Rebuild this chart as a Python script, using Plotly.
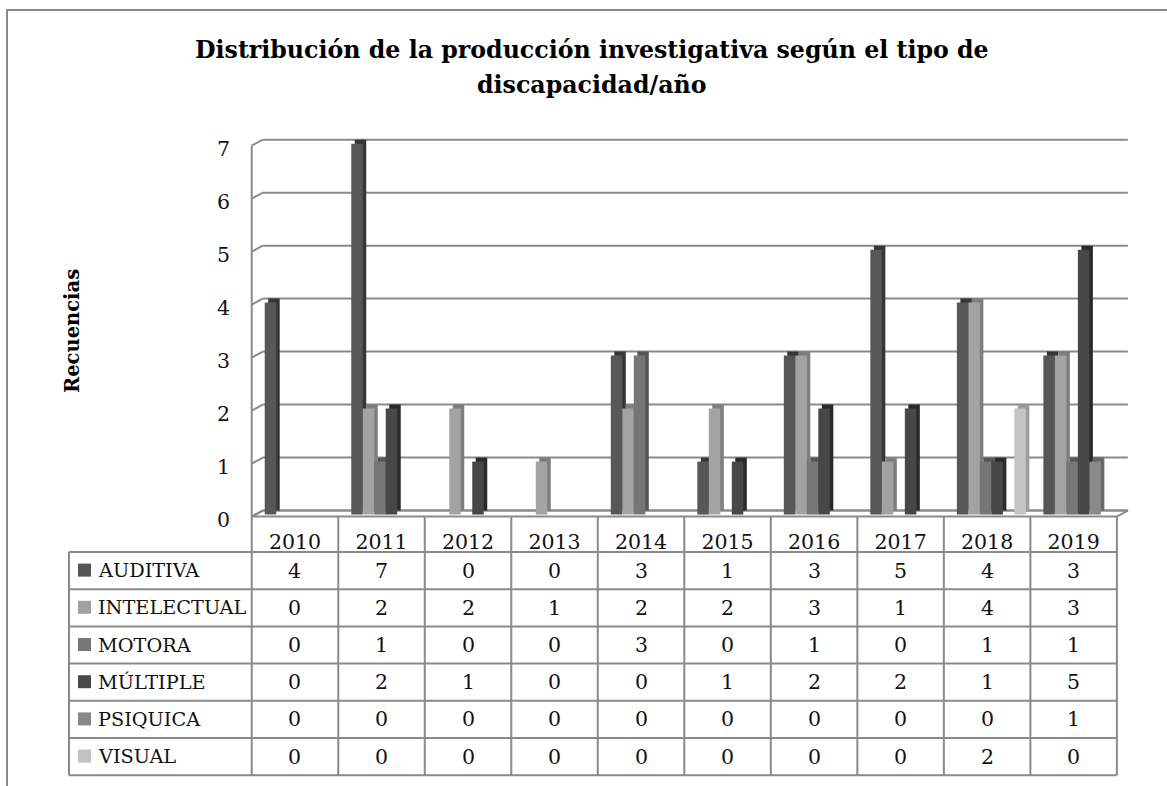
import plotly.graph_objects as go

# ---------------- data ----------------
years = ["2010", "2011", "2012", "2013", "2014", "2015", "2016", "2017", "2018", "2019"]
series_names = ["AUDITIVA", "INTELECTUAL", "MOTORA", "MÚLTIPLE", "PSIQUICA", "VISUAL"]
auditiva = [4, 7, 0, 0, 3, 1, 3, 5, 4, 3]
intelectual = [0, 2, 2, 1, 2, 2, 3, 1, 4, 3]
motora = [0, 1, 0, 0, 3, 0, 1, 0, 1, 1]
multiple = [0, 2, 1, 0, 0, 1, 2, 2, 1, 5]
psiquica = [0, 0, 0, 0, 0, 0, 0, 0, 0, 1]
visual = [0, 0, 0, 0, 0, 0, 0, 0, 2, 0]
y_ticks = [0, 1, 2, 3, 4, 5, 6, 7]

title_line1 = "Distribución de la producción investigativa según el tipo de"
title_line2 = "discapacidad/año"
y_title = "Recuencias"

# ---------------- styles ----------------
front_colors = ["#575757", "#a3a3a3", "#767676", "#474747", "#8a8a8a", "#c4c4c4"]
side_colors = ["#363636", "#7e7e7e", "#565656", "#2a2a2a", "#686868", "#9c9c9c"]
legend_colors = ["#555555", "#a0a0a0", "#777777", "#4a4a4a", "#888888", "#c2c2c2"]
LINE_GRAY = "#8a8a8a"
FONT = "DejaVu Serif"
TXT = "#111111"
TSIZE = 20.5
LSIZE = 19.3

all_series = [auditiva, intelectual, motora, multiple, psiquica, visual]

# ---------------- geometry ----------------
FIG_W, FIG_H = 1167, 786
M_L, M_R, M_T, M_B = 250, 38, 137, 268
X_RANGE = [-0.52, 9.64]
Y_RANGE = [-0.14, 7.05]
PW = FIG_W - M_L - M_R
PH = FIG_H - M_T - M_B
X_UNIT = PW / (X_RANGE[1] - X_RANGE[0])
Y_UNIT = PH / (Y_RANGE[1] - Y_RANGE[0])


def px_paper_x(p):
    return (p - M_L) / PW


def px_paper_y(p):
    return (M_T + PH - p) / PH


def ydata_px(v):
    return M_T + (Y_RANGE[1] - v) * Y_UNIT


WALL_DX = 11 / X_UNIT
WALL_DY = 6 / Y_UNIT
BAR_DX = 3.5 / X_UNIT
BAR_DY = 4 / Y_UNIT
SLOT = 11.5 / X_UNIT
GROUP_START = -0.5 + 13 / X_UNIT

xs = list(range(len(years)))

fig = go.Figure()

# side / top faces (drawn first)
for k, (name, vals) in enumerate(zip(series_names, all_series)):
    fig.add_trace(go.Bar(
        x=xs, y=vals, base=0,
        offset=GROUP_START + k * SLOT + BAR_DX, width=SLOT,
        marker=dict(color=side_colors[k], line=dict(width=0)),
        showlegend=False, hoverinfo="skip",
    ))
# front faces
for k, (name, vals) in enumerate(zip(series_names, all_series)):
    fig.add_trace(go.Bar(
        x=xs, y=vals, base=-BAR_DY,
        offset=GROUP_START + k * SLOT, width=SLOT,
        marker=dict(color=front_colors[k], line=dict(width=0)),
        name=name, showlegend=False,
    ))

shapes = []
# floor
shapes.append(dict(
    type="path", xref="x", yref="y", layer="below",
    path=(f"M {-0.5},{-WALL_DY} L {len(years) - 0.5},{-WALL_DY} "
          f"L {len(years) - 0.5 + WALL_DX},0 L {-0.5 + WALL_DX},0 Z"),
    line=dict(color=LINE_GRAY, width=2), fillcolor="white",
))
# gridlines on back wall + slants on left wall
for v in y_ticks:
    shapes.append(dict(type="line", xref="x", yref="y", layer="below",
                       x0=-0.5 + WALL_DX, x1=len(years) - 0.5 + WALL_DX, y0=v, y1=v,
                       line=dict(color=LINE_GRAY, width=2)))
    shapes.append(dict(type="line", xref="x", yref="y", layer="below",
                       x0=-0.5, x1=-0.5 + WALL_DX, y0=v - WALL_DY, y1=v,
                       line=dict(color=LINE_GRAY, width=2)))
# left wall front edge
shapes.append(dict(type="line", xref="x", yref="y", layer="below",
                   x0=-0.5, x1=-0.5, y0=-WALL_DY, y1=max(y_ticks) - WALL_DY,
                   line=dict(color=LINE_GRAY, width=2)))

# ---------------- data table ----------------
TABLE_LEFT_PX = 69
HEADER_BOTTOM_PX = 552
ROW_H = 37.2
row_edges_px = [HEADER_BOTTOM_PX + ROW_H * i for i in range(len(series_names) + 1)]
floor_front_px = ydata_px(-WALL_DY)
table_right_px = M_L + (len(years) - 0.5 - X_RANGE[0]) * X_UNIT

for p in row_edges_px:
    shapes.append(dict(type="line", xref="paper", yref="paper",
                       x0=px_paper_x(TABLE_LEFT_PX), x1=px_paper_x(table_right_px),
                       y0=px_paper_y(p), y1=px_paper_y(p),
                       line=dict(color=LINE_GRAY, width=2)))
shapes.append(dict(type="line", xref="paper", yref="paper",
                   x0=px_paper_x(TABLE_LEFT_PX), x1=px_paper_x(TABLE_LEFT_PX),
                   y0=px_paper_y(row_edges_px[0]), y1=px_paper_y(row_edges_px[-1]),
                   line=dict(color=LINE_GRAY, width=2)))
for i in range(len(years) + 1):
    shapes.append(dict(type="line", xref="x", yref="paper",
                       x0=i - 0.5, x1=i - 0.5,
                       y0=px_paper_y(floor_front_px), y1=px_paper_y(row_edges_px[-1]),
                       line=dict(color=LINE_GRAY, width=2)))

annotations = []
for r, name in enumerate(series_names):
    yc = (row_edges_px[r] + row_edges_px[r + 1]) / 2
    shapes.append(dict(type="rect", xref="paper", yref="paper", layer="above",
                       x0=px_paper_x(78), x1=px_paper_x(91),
                       y0=px_paper_y(yc - 7), y1=px_paper_y(yc + 6),
                       fillcolor=legend_colors[r], line=dict(width=0)))
    annotations.append(dict(xref="paper", yref="paper", x=px_paper_x(96), y=px_paper_y(yc),
                            xanchor="left", yanchor="middle", showarrow=False, text=name,
                            font=dict(family=FONT, size=LSIZE, color=TXT)))
    for i, v in enumerate(all_series[r]):
        annotations.append(dict(xref="x", yref="paper", x=i, y=px_paper_y(yc),
                                xanchor="center", yanchor="middle", showarrow=False, text=str(v),
                                font=dict(family=FONT, size=TSIZE, color=TXT)))

# outer border
shapes.append(dict(type="path", xref="paper", yref="paper", layer="below",
                   path=(f"M {px_paper_x(7)},{px_paper_y(FIG_H + 20)} L {px_paper_x(7)},{px_paper_y(10)} "
                         f"L {px_paper_x(FIG_W + 20)},{px_paper_y(10)}"),
                   line=dict(color=LINE_GRAY, width=2)))

# titles
annotations.append(dict(xref="paper", yref="paper", x=px_paper_x(592), y=px_paper_y(50),
                        xanchor="center", yanchor="middle", showarrow=False,
                        text="<b>" + title_line1 + "</b>",
                        font=dict(family=FONT, size=23.7, color="#000000")))
annotations.append(dict(xref="paper", yref="paper", x=px_paper_x(592), y=px_paper_y(85),
                        xanchor="center", yanchor="middle", showarrow=False,
                        text="<b>" + title_line2 + "</b>",
                        font=dict(family=FONT, size=23.7, color="#000000")))
annotations.append(dict(xref="paper", yref="paper", x=px_paper_x(72), y=px_paper_y(331),
                        xanchor="center", yanchor="middle", showarrow=False, textangle=-90,
                        text="<b>" + y_title + "</b>",
                        font=dict(family=FONT, size=19.5, color="#000000")))

fig.update_layout(
    width=FIG_W, height=FIG_H,
    margin=dict(l=M_L, r=M_R, t=M_T, b=M_B, autoexpand=False),
    paper_bgcolor="white", plot_bgcolor="rgba(0,0,0,0)",
    barmode="overlay",
    shapes=shapes, annotations=annotations,
    showlegend=False,
    font=dict(family=FONT, size=TSIZE, color=TXT),
    xaxis=dict(range=X_RANGE, tickmode="array", tickvals=xs, ticktext=years,
               showgrid=False, zeroline=False, showline=False, ticks="",
               ticklabelstandoff=9, tickfont=dict(family=FONT, size=TSIZE, color=TXT)),
    yaxis=dict(range=Y_RANGE, tickmode="array", tickvals=y_ticks, ticktext=[str(t) for t in y_ticks],
               showgrid=False, zeroline=False, showline=False, ticks="",
               ticklabelstandoff=19, ticklabelshift=9,
               tickfont=dict(family=FONT, size=TSIZE, color=TXT)),
)

fig.write_html(
    "out.html",
    config={"displayModeBar": False},
    post_script="document.body.style.margin='0';document.body.style.overflow='hidden';",
)
